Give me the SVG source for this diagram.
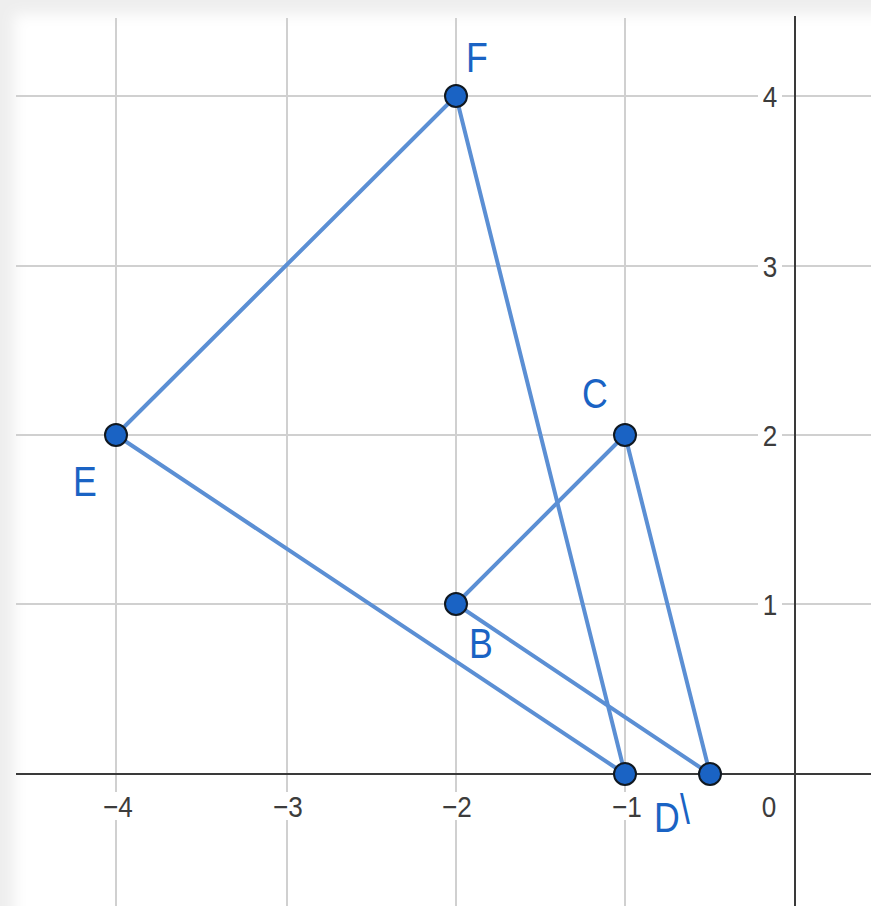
<svg xmlns="http://www.w3.org/2000/svg" width="871" height="906" viewBox="0 0 871 906">
  <defs>
    <filter id="soft" x="-5%" y="-5%" width="110%" height="110%">
      <feGaussianBlur stdDeviation="7"/>
    </filter>
    <style>
      .grid { stroke: #d0d0d0; stroke-width: 2; fill: none; }
      .axis { stroke: #3a3a3a; stroke-width: 2; fill: none; }
      .tick { font-family: "Liberation Sans", Arial, sans-serif; font-size: 29px; fill: #3c3c3c; }
      .seg { stroke: #5b8fd4; stroke-width: 4; stroke-linecap: round; fill: none; }
      .pt { fill: #1a63c4; stroke: #101820; stroke-width: 2; }
      .lbl { font-family: "Liberation Sans", Arial, sans-serif; font-size: 42px; fill: #1a63c4; }
    </style>
  </defs>
  <rect x="0" y="0" width="871" height="906" fill="#eeeeee"/>
  <rect x="14" y="14" width="880" height="910" fill="#ffffff" filter="url(#soft)"/>

  <g id="grid">
    <line class="grid" x1="116" y1="18" x2="116" y2="906"/>
    <line class="grid" x1="287" y1="18" x2="287" y2="906"/>
    <line class="grid" x1="456" y1="18" x2="456" y2="906"/>
    <line class="grid" x1="625" y1="18" x2="625" y2="906"/>
    <line class="grid" x1="16" y1="96" x2="871" y2="96"/>
    <line class="grid" x1="16" y1="266" x2="871" y2="266"/>
    <line class="grid" x1="16" y1="435" x2="871" y2="435"/>
    <line class="grid" x1="16" y1="604" x2="871" y2="604"/>
  </g>
  <g id="axes">
    <line class="axis" x1="795" y1="16" x2="795" y2="906"/>
    <line class="axis" x1="16" y1="774" x2="871" y2="774"/>
  </g>
  <g id="ticks">
    <rect x="101" y="792" width="34" height="28" fill="#fff"/>
    <rect x="271" y="792" width="34" height="28" fill="#fff"/>
    <rect x="440" y="792" width="34" height="28" fill="#fff"/>
    <rect x="609" y="792" width="34" height="28" fill="#fff"/>
    <text class="tick" transform="translate(118,817) scale(0.9,1)" text-anchor="middle">−4</text>
    <text class="tick" transform="translate(288,817) scale(0.9,1)" text-anchor="middle">−3</text>
    <text class="tick" transform="translate(457,817) scale(0.9,1)" text-anchor="middle">−2</text>
    <text class="tick" transform="translate(627,817) scale(0.9,1)" text-anchor="middle">−1</text>
    <text class="tick" transform="translate(769,817) scale(0.9,1)" text-anchor="middle">0</text>
    <rect x="758" y="84" width="24" height="26" fill="#fff"/>
    <rect x="758" y="254" width="24" height="26" fill="#fff"/>
    <rect x="758" y="423" width="24" height="26" fill="#fff"/>
    <rect x="758" y="592" width="24" height="26" fill="#fff"/>
    <text class="tick" transform="translate(770,107) scale(0.9,1)" text-anchor="middle">4</text>
    <text class="tick" transform="translate(770,277) scale(0.9,1)" text-anchor="middle">3</text>
    <text class="tick" transform="translate(770,446) scale(0.9,1)" text-anchor="middle">2</text>
    <text class="tick" transform="translate(770,615) scale(0.9,1)" text-anchor="middle">1</text>
  </g>

  <g id="connectors">
    <line class="seg" x1="456" y1="96" x2="116" y2="435"/>
    <line class="seg" x1="116" y1="435" x2="625" y2="774"/>
    <line class="seg" x1="456" y1="96" x2="625" y2="774"/>
    <line class="seg" x1="625" y1="435" x2="456" y2="604"/>
    <line class="seg" x1="456" y1="604" x2="710" y2="774"/>
    <line class="seg" x1="625" y1="435" x2="710" y2="774"/>
  </g>

  <g id="F"><circle class="pt" cx="456" cy="96" r="11"/><text class="lbl" transform="translate(466,72) scale(0.85,1)">F</text></g>
  <g id="E"><circle class="pt" cx="116" cy="435" r="11"/><text class="lbl" transform="translate(73,496) scale(0.85,1)">E</text></g>
  <g id="C"><circle class="pt" cx="625" cy="435" r="11"/><text class="lbl" transform="translate(582,408) scale(0.85,1)">C</text></g>
  <g id="B"><circle class="pt" cx="456" cy="604" r="11"/><text class="lbl" transform="translate(469,658) scale(0.85,1)">B</text></g>
  <g id="D"><circle class="pt" cx="625" cy="774" r="11"/><text class="lbl" transform="translate(654,832) scale(0.85,1)">D</text></g>
  <g id="A"><circle class="pt" cx="710" cy="774" r="11"/><text class="lbl" transform="translate(680,824) scale(0.85,1)" font-size="38">\</text></g>
</svg>
